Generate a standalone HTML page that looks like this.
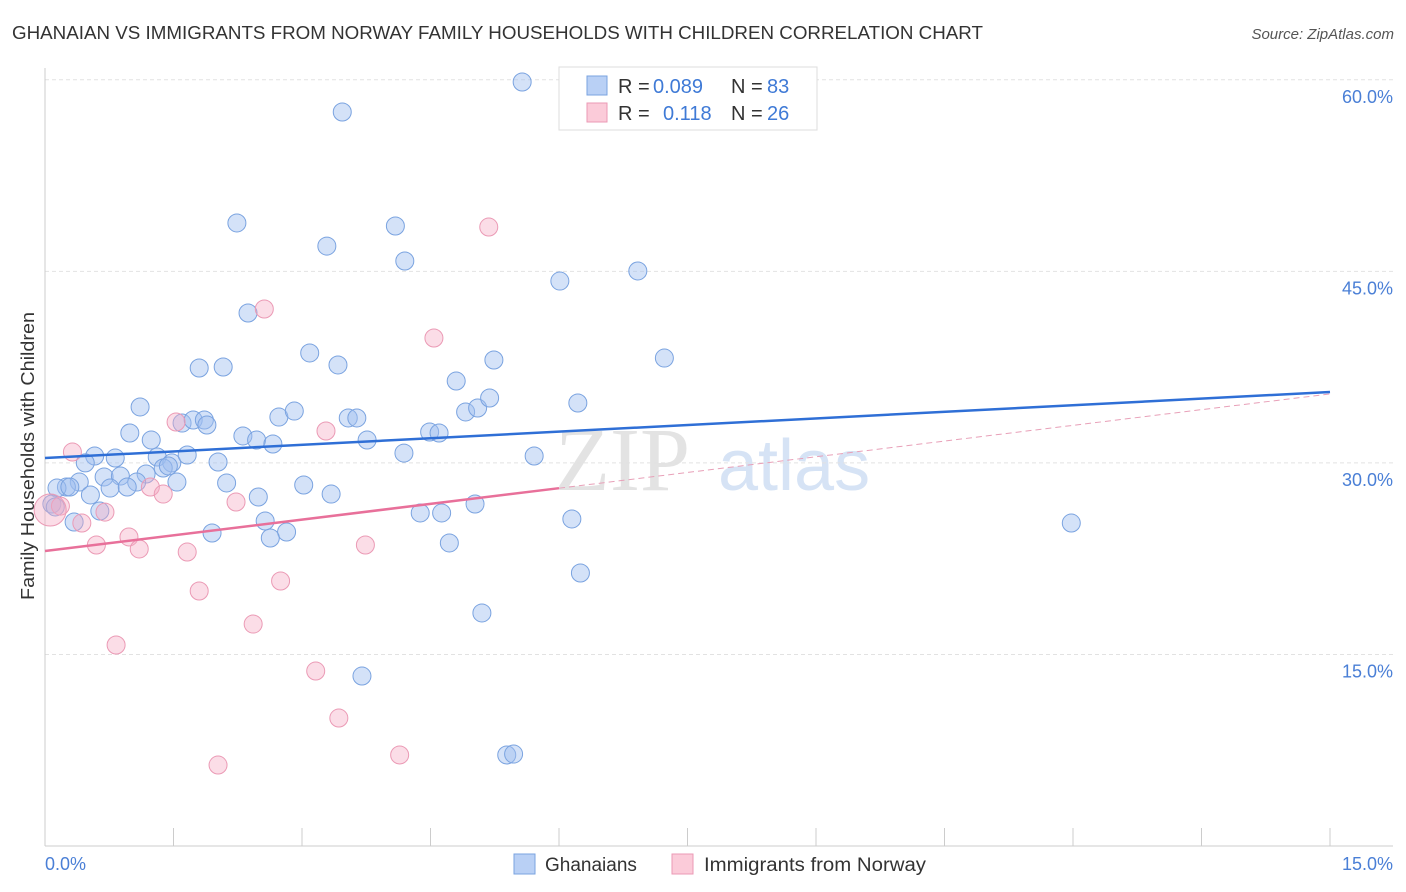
<!DOCTYPE html>
<html><head><meta charset="utf-8"><style>
body{margin:0;background:#fff;font-family:"Liberation Sans",sans-serif;}
svg{display:block}
</style></head><body>
<svg id="chart" width="1406" height="892">
<text x="12" y="39" font-size="18" fill="#333" textLength="971" lengthAdjust="spacingAndGlyphs">GHANAIAN VS IMMIGRANTS FROM NORWAY FAMILY HOUSEHOLDS WITH CHILDREN CORRELATION CHART</text>
<text x="1394" y="39" font-size="15" fill="#555" font-style="italic" text-anchor="end">Source: ZipAtlas.com</text>
<text x="34" y="600" font-size="18" fill="#333" textLength="288" lengthAdjust="spacingAndGlyphs" transform="rotate(-90 34 600)">Family Households with Children</text>
<g>
<text x="555" y="490" font-size="90" fill="#e3e3e3" font-family="Liberation Serif,serif">ZIP</text>
<text x="718" y="490" font-size="72" fill="#d6e3f5">atlas</text>
</g>
<g id="grid"></g><g id="axes"></g><g id="marks"></g><g id="lines"></g>
<g>
<rect x="559" y="67" width="258" height="63" fill="#fff" stroke="#ddd"/>
<rect x="587" y="76" width="20" height="19" fill="#b9d0f5" stroke="#7aa3e0"/>
<rect x="587" y="103" width="20" height="19" fill="#fbcbd9" stroke="#eb9ab5"/>
<g font-size="20" fill="#333">
<text x="618" y="93">R =</text>
<text x="653" y="93" fill="#3f7ad6">0.089</text>
<text x="731" y="93">N =</text>
<text x="767" y="93" fill="#3f7ad6">83</text>
<text x="618" y="120">R =</text>
<text x="663" y="120" fill="#3f7ad6">0.118</text>
<text x="731" y="120">N =</text>
<text x="767" y="120" fill="#3f7ad6">26</text>
</g>
</g>
<g>
<rect x="514" y="854" width="21" height="20" fill="#b9d0f5" stroke="#7aa3e0"/>
<text x="545" y="871" font-size="19" fill="#333">Ghanaians</text>
<rect x="672" y="854" width="21" height="20" fill="#fbcbd9" stroke="#eb9ab5"/>
<text x="704" y="871" font-size="19" fill="#333" textLength="222" lengthAdjust="spacingAndGlyphs">Immigrants from Norway</text>
</g>
</svg>
<script>
const blueX=[5.57,3.47,2.24,3.29,4.09,4.20,6.01,6.92,2.37,3.09,3.42,1.80,2.08,7.23,5.24,4.80,1.11,1.60,1.73,1.86,1.89,2.73,2.91,3.54,3.64,3.76,4.91,5.05,5.19,6.22,0.99,1.24,2.31,2.47,2.66,4.49,4.60,4.19,5.71,0.58,0.82,0.47,1.31,1.48,1.66,2.02,1.38,1.44,1.18,0.69,0.88,0.40,0.25,0.14,0.29,1.07,1.54,0.76,0.96,0.53,2.12,3.02,3.34,2.49,0.08,0.12,0.64,0.34,4.38,4.63,5.02,6.15,2.57,1.95,2.82,2.63,4.72,6.25,5.10,3.70,5.39,5.47,11.98];
const blueY=[59.83,57.48,48.79,46.98,48.55,45.81,44.24,45.03,41.74,38.61,37.67,37.43,37.51,38.21,38.06,36.41,34.38,33.12,33.36,33.36,32.97,33.59,34.06,33.52,33.52,31.79,33.99,34.30,35.08,34.69,32.34,31.79,32.11,31.79,31.48,32.42,32.34,30.77,30.54,30.54,30.38,30.0,30.46,30.0,30.62,30.07,29.60,29.76,29.13,28.90,28.97,28.50,28.11,28.03,28.11,28.50,28.50,28.03,28.11,27.49,28.43,28.27,27.56,27.33,26.78,26.55,26.23,25.37,26.08,26.08,26.78,25.61,25.45,24.51,24.59,24.12,23.73,21.38,18.25,13.31,7.13,7.20,25.29];
const pinkX=[5.18,2.56,4.54,0.32,1.53,3.28,1.23,1.38,2.23,0.70,0.43,0.18,0.60,0.98,1.10,1.66,3.74,1.80,2.75,2.43,0.83,3.16,3.43,2.02,4.14,0.06];
const pinkY=[48.47,42.05,39.78,30.85,33.20,32.50,28.11,27.56,26.94,26.15,25.29,26.62,23.57,24.20,23.26,23.02,23.57,19.97,20.75,17.38,15.74,13.70,10.02,6.34,7.13,26.31];
const pinkSize=[9,9,9,9,9,9,9,9,9,9,9,9,9,9,9,9,9,9,9,9,9,9,9,9,9,16];
const yTicks=[15,30,45,60];
const yTickLabels=["15.0%","30.0%","45.0%","60.0%"];
const blueTrend=[30.38,35.55];
const pinkTrend=[23.10,35.40];
const pinkSolidEnd=6.0;
const NS="http://www.w3.org/2000/svg";
const X=v=>45+v/15*1285;
const Y=v=>846-v*12.77;
function mk(tag,attrs,parent){const e=document.createElementNS(NS,tag);for(const k in attrs)e.setAttribute(k,attrs[k]);document.getElementById(parent).appendChild(e);return e;}
yTicks.forEach((t,i)=>{
 const g=mk('line',{x1:45,x2:1393,y1:Y(t),y2:Y(t),stroke:'#e2e2e2','stroke-dasharray':'4 3'},'grid');
 
 
 const l=mk('text',{x:1393,y:Y(t)+23,'font-size':18,fill:'#4a7fd6','text-anchor':'end'},'grid');
 l.textContent=yTickLabels[i];
 
 
});
let a=mk('line',{x1:45,x2:45,y1:68,y2:846,stroke:'#ccc'},'axes');


a=mk('line',{x1:45,x2:1393,y1:846,y2:846,stroke:'#ccc'},'axes');


for(let i=0;i<=10;i++){const t=mk('line',{x1:X(i*1.5),x2:X(i*1.5),y1:828,y2:846,stroke:'#ccc'},'axes');
 
 }
let xl=mk('text',{x:45,y:870,'font-size':18,fill:'#4a7fd6'},'axes');xl.textContent='0.0%';


xl=mk('text',{x:1393,y:870,'font-size':18,fill:'#4a7fd6','text-anchor':'end'},'axes');xl.textContent='15.0%';


blueX.forEach((v,i)=>{const c=mk('circle',{cx:X(v),cy:Y(blueY[i]),r:9,fill:'rgba(160,190,240,0.45)',stroke:'#7aa3e0','stroke-width':1},'marks');
 
 });
pinkX.forEach((v,i)=>{const c=mk('circle',{cx:X(v),cy:Y(pinkY[i]),r:pinkSize[i],fill:'rgba(245,170,195,0.4)',stroke:'#eb9ab5','stroke-width':1},'marks');
 
 });
let t=mk('line',{x1:X(0),y1:Y(blueTrend[0]),x2:X(15),y2:Y(blueTrend[1]),stroke:'#2f6fd6','stroke-width':2.5},'lines');


const pAt=v=>pinkTrend[0]+(pinkTrend[1]-pinkTrend[0])*v/15;
t=mk('line',{x1:X(0),y1:Y(pinkTrend[0]),x2:X(pinkSolidEnd),y2:Y(pAt(pinkSolidEnd)),stroke:'#e8709a','stroke-width':2.5},'lines');


t=mk('line',{x1:X(pinkSolidEnd),y1:Y(pAt(pinkSolidEnd)),x2:X(15),y2:Y(pinkTrend[1]),stroke:'#e8a0b8','stroke-width':1,'stroke-dasharray':'6 4'},'lines');


</script>
</body></html>
